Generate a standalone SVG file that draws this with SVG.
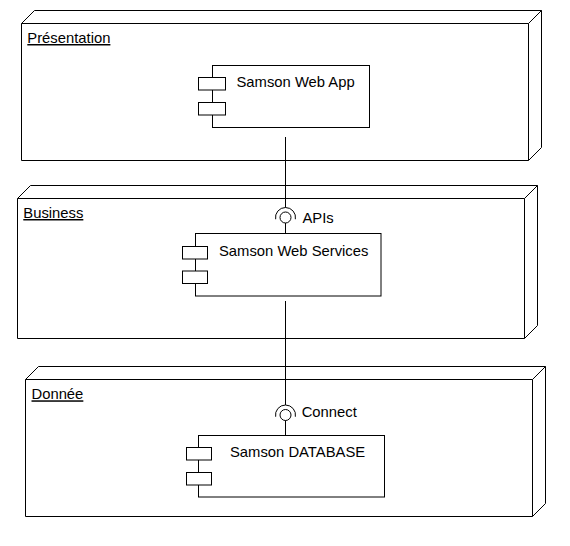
<svg xmlns="http://www.w3.org/2000/svg" width="570" height="546" viewBox="0 0 570 546">
<style>
.box{fill:#fff;stroke:#000;stroke-width:1}
.edge{fill:none;stroke:#000;stroke-width:1}
text{font-family:"Liberation Sans",Arial,sans-serif;font-size:14.8px;fill:#000}
.nl{text-decoration:underline}
</style>
<rect width="570" height="546" fill="#fff"/>
<g id="node-presentation">
<path class="box" d="M21.5 23.5 L34.5 10.5 H541.5 V147.5 L528.5 160.5 H21.5 Z"/>
<path class="edge" d="M21.5 23.5 H528.5 V160.5 M528.5 23.5 L541.5 10.5"/>
<text class="nl" x="27.3" y="43">Présentation</text>
</g>
<g id="node-business">
<path class="box" d="M17.5 198.5 L30.5 185.5 H537.5 V325.5 L524.5 338.5 H17.5 Z"/>
<path class="edge" d="M17.5 198.5 H524.5 V338.5 M524.5 198.5 L537.5 185.5"/>
<text class="nl" x="23.3" y="218">Business</text>
</g>
<g id="node-donnee">
<path class="box" d="M25.5 379.5 L38.5 366.5 H545.5 V503.5 L532.5 516.5 H25.5 Z"/>
<path class="edge" d="M25.5 379.5 H532.5 V516.5 M532.5 379.5 L545.5 366.5"/>
<text class="nl" x="31.5" y="399.3">Donnée</text>
</g>
<g id="comp-webapp">
<rect class="box" x="212.5" y="65.5" width="157" height="62"/>
<rect class="box" x="198.5" y="77.5" width="27" height="12.5"/>
<rect class="box" x="198.5" y="102.5" width="27" height="12.5"/>
<text x="236.5" y="87.3">Samson Web App</text>
</g>
<g id="comp-webservices">
<rect class="box" x="195.5" y="233.5" width="185.5" height="62.5"/>
<rect class="box" x="182.5" y="246.5" width="25" height="12.5"/>
<rect class="box" x="182.5" y="271" width="25" height="12.5"/>
<text x="219" y="256">Samson Web Services</text>
</g>
<g id="comp-database">
<rect class="box" x="198.5" y="435.5" width="186" height="61.5"/>
<rect class="box" x="186.5" y="447.5" width="25" height="12.5"/>
<rect class="box" x="186.5" y="472.5" width="25" height="12.5"/>
<text x="230" y="456.7">Samson DATABASE</text>
</g>
<g id="connectors">
<path class="edge" d="M285.5 137 V207.5"/>
<path class="edge" d="M275.65 219.24 A10 10 0 1 1 295.35 219.24"/>
<circle class="edge" cx="285.5" cy="217.5" r="5.5"/>
<path class="edge" d="M285.5 223 V233.5"/>
<text x="302.5" y="223">APIs</text>
<path class="edge" d="M285.5 301 V405"/>
<path class="edge" d="M275.65 416.74 A10 10 0 1 1 295.35 416.74"/>
<circle class="edge" cx="285.5" cy="415" r="5.5"/>
<path class="edge" d="M285.5 420.5 V435.5"/>
<text x="301.7" y="417">Connect</text>
</g>
</svg>
